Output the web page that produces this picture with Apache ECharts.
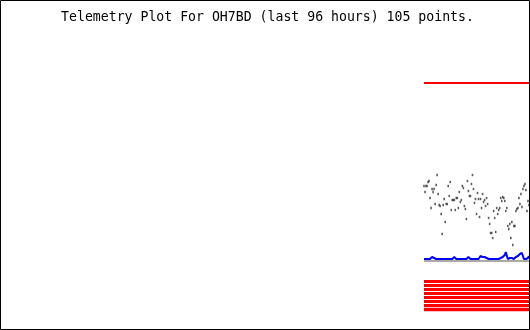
<!DOCTYPE html>
<html><head><meta charset="utf-8">
<script src="https://cdn.jsdelivr.net/npm/echarts@6/dist/echarts.min.js"></script>
<style>html,body{margin:0;padding:0;background:#fff}#c{width:530px;height:330px}</style>
</head><body><div id="c"></div><script>
const titleText = 'Telemetry Plot For OH7BD (last 96 hours) 105 points.';
// channel values (arbitrary plot units), one per telemetry packet
const redChannel = [
247,247,247,247,247,247,247,247,247,247,247,247,247,247,247,
247,247,247,247,247,247,247,247,247,247,247,247,247,247,247,
247,247,247,247,247,247,247,247,247,247,247,247,247,247,247,
247,247,247,247,247,247,247,247,247,247,247,247,247,247,247,
247,247,247,247,247,247,247,247,247,247,247,247,247,247,247,
247,247,247,247,247,247,246,247,247,247,247,247,247,247,247,
247,247,247,247,247,247,247,247,247,247,247,247,247,247,247];
const blackChannel = [
144,138,144,144,148,149,132,122,141,138,141,126,145,155,136,
125,124,116,96,125,131,108,126,126,144,134,148,120,130,130,
130,120,132,132,122,138,128,130,144,142,124,121,111,149,139,
134,134,146,155,141,127,131,116,137,131,113,131,122,136,128,
130,124,132,126,112,106,97,97,92,119,112,98,122,116,120,
122,132,129,133,132,129,119,122,104,101,106,92,108,85,104,
104,119,121,122,132,126,136,123,141,144,146,140,119,129,125];
const blueChannel = [
71,71,71,71,71,71,71,71,73,72,72,72,71,71,71,
71,71,71,71,71,71,71,71,71,71,71,71,71,71,71,
73,71,71,71,71,71,71,71,71,71,71,71,71,71,73,
71,71,71,71,71,71,71,71,71,71,71,74,72,73,72,
73,72,72,71,71,71,71,71,71,71,71,71,71,71,71,
71,72,72,73,74,75,78,79,71,71,72,71,72,71,71,
72,73,75,74,75,76,76,77,79,71,71,71,71,72,74];
const grayLevel = 69;
const bitLevels = [48.5, 44.5, 40.5, 36.5, 32.5, 28.5, 24.5, 20.5];
const firstIdx = 0, lastIdx = 104;

const pairs = arr => arr.map((v, i) => [i, v]);
const series = [];
bitLevels.forEach((lv, k) => series.push({
  type: 'line', data: [[firstIdx, lv], [lastIdx, lv]], showSymbol: false, silent: true,
  lineStyle: { color: '#ff0000', width: k === bitLevels.length - 1 ? 3.5 : 3 }, animation: false
}));
series.push({ type: 'line', data: [[firstIdx, grayLevel], [lastIdx, grayLevel]], showSymbol: false,
  lineStyle: { color: '#aaaaaa', width: 2 }, animation: false });
series.push({ type: 'line', data: pairs(blueChannel), showSymbol: false, smooth: false,
  lineStyle: { color: '#0000ff', width: 2 }, animation: false });
series.push({ type: 'line', data: pairs(redChannel), showSymbol: false,
  lineStyle: { color: '#ff0000', width: 2 }, animation: false });
series.push({ type: 'scatter', data: pairs(blackChannel), symbol: 'rect', symbolSize: [1.6, 2.4],
  itemStyle: { color: '#333' }, animation: false });

const chart = echarts.init(document.getElementById('c'), null, { renderer: 'canvas' });
chart.setOption({
  animation: false,
  backgroundColor: '#fff',
  grid: { left: 424, width: 105, top: 0, height: 330 },
  xAxis: { type: 'value', min: firstIdx, max: lastIdx, show: false },
  yAxis: { type: 'value', min: 0, max: 330, show: false },
  graphic: [
    { type: 'rect', shape: { x: 0.5, y: 0.5, width: 529, height: 329 },
      style: { fill: null, stroke: '#000', lineWidth: 1 }, z: 100 },
    { type: 'text', x: 267.5, y: 18, style: { text: titleText, font: '13.2px "DejaVu Sans Mono", monospace',
      fill: '#000', textAlign: 'center', textVerticalAlign: 'middle' }, z: 100 }
  ],
  series: series
});
</script></body></html>
